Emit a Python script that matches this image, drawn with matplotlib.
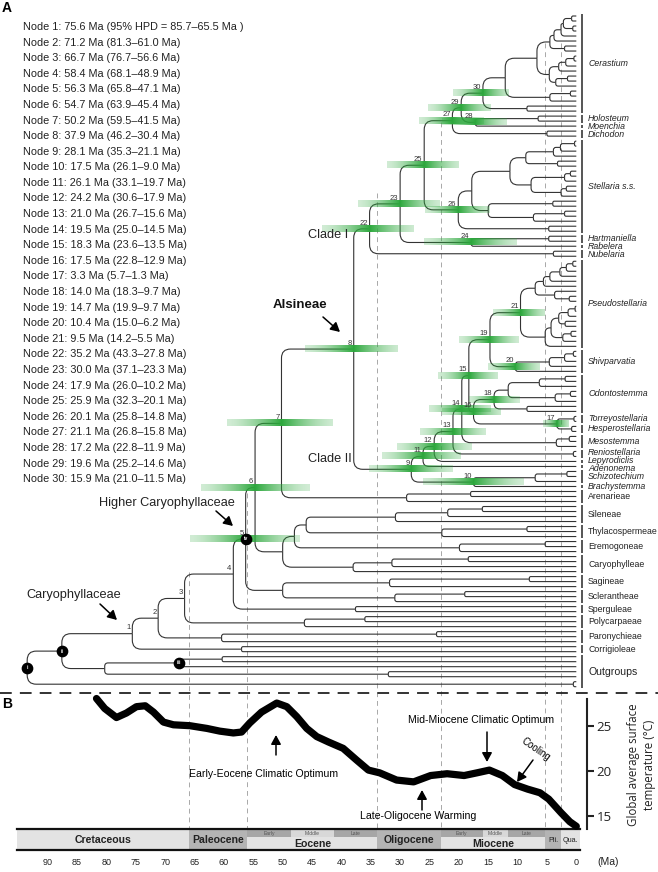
import numpy as np
import matplotlib
matplotlib.use("Agg")
import matplotlib.pyplot as plt
from matplotlib.path import Path
from matplotlib.patches import PathPatch, Rectangle

plt.rcParams['font.family'] = ['Liberation Sans', 'DejaVu Sans']

W, H = 658, 872

# ---- node ages (Ma) with 95% HPD, nodes 1-30
NODE_AGE = [75.6, 71.2, 66.7, 58.4, 56.3, 54.7, 50.2, 37.9, 28.1, 17.5,
            26.1, 24.2, 21.0, 19.5, 18.3, 17.5, 3.3, 14.0, 14.7, 10.4,
            9.5, 35.2, 30.0, 17.9, 25.9, 20.1, 21.1, 17.2, 19.6, 15.9]
HPD_OLD = [85.7, 81.3, 76.7, 68.1, 65.8, 63.9, 59.5, 46.2, 35.3, 26.1,
           33.1, 30.6, 26.7, 25.0, 23.6, 22.8, 5.7, 18.3, 19.9, 15.0,
           14.2, 43.3, 37.1, 26.0, 32.3, 25.8, 26.8, 22.8, 25.2, 21.0]
HPD_YOUNG = [65.5, 61.0, 56.6, 48.9, 47.1, 45.4, 41.5, 30.4, 21.1, 9.0,
             19.7, 17.9, 15.6, 14.5, 13.5, 12.9, 1.3, 9.7, 9.7, 6.2,
             5.5, 27.8, 23.3, 10.2, 20.1, 14.8, 15.8, 11.9, 14.6, 11.5]
ROMAN_AGE = {"i": 93.5, "ii": 87.6, "iii": 67.7}
CIRCLED = {"i": "i", "ii": "ii", "iii": "iii", "5": "iv"}

# ---- tree topology: (age or node id, child, child); T = tip
T = None
CERASTIUM = ("30",
             (12.1,
              (6.7,
               (4.5, (3.8, (2.6, (2.2, (0.8, T, T), (0.6, T, T)), T), T), (2.0, T, T)),
               (4.6, (3.0, (1.8, (0.4, T, T), T), T), (3.5, (1.5, T, T), T))),
              (4.5, (1.0, T, T), T)),
             (8.4, T, T))
STELLARIA = ("26",
             (17.8,
              (11.3,
               (8.6, (3.9, (2.7, (0.3, T, T), T), T), (3.2, T, T)),
               (7.7, (2.0, (1.0, T, T), T), (2.6, (1.7, T, T), T))),
              (15.0, (4.0, T, T), (7.3, (2.0, T, T), T))),
             (4.7, T, T))
CLADE_1 = ("22",
           ("23",
            ("25",
             ("27", ("29", CERASTIUM, ("28", (6.5, T, T), T)), (5.0, T, T)),
             STELLARIA),
            ("24", (4.7, T, T), T)),
           (3.9, T, T))
PSEUDOSTELLARIA = ("21",
                   (7.0, (5.6, (4.5, (2.8, (1.7, (0.6, T, T), T), T), T), T),
                    (3.7, T, (1.2, T, T))),
                   (5.3, (4.3, (3.0, (1.4, (0.2, T, T), T), (1.9, T, T)),
                          (2.3, (0.9, T, T), T)), T))
CLADE_2 = ("9",
           ("11",
            ("12",
             ("13",
              ("14",
               ("15",
                ("19", PSEUDOSTELLARIA, ("20", (4.6, (2.0, (0.5, T, T), T), T), T)),
                ("16",
                 ("18", (11.6, (6.3, (1.9, T, T), T), (3.6, (1.0, T, T), T)), (8.4, T, T)),
                 ("17", (0.4, T, T), (0.8, T, T)))),
               (3.4, (1.2, T, T), T)),
              (0.5, T, T)),
             T),
            T),
           ("10", (7.0, (1.6, T, T), T), T))
TREE = ("i",
        ("ii",
         ("1",
          ("2",
           ("3",
            ("4",
             ("5",
              ("6",
               ("7", ("8", CLADE_1, CLADE_2), (28.9, (18.0, T, T), T)),
               (50.0,
                (48.0, (46.0, (30.8, (21.9, (16.0, T, T), T), T), (22.9, (8.4, T, T), T)),
                 (19.9, (5.3, T, T), T)),
                (38.0, (31.4, (18.4, T, T), T), T))),
              (50.0, (31.8, (8.0, T, T), T), (30.9, (19.0, T, T), T))),
             (37.6, T, T)),
            (46.3, (36.0, T, T), T)),
           (60.4, (23.8, T, T), T)),
          (57.0, T, T)),
         (80.3, ("iii", (60.3, T, T), T), (32.0, T, T))),
        (0.5, T, T))

CLADE_NAMES = ["Cerastium", "Holosteum", "Moenchia", "Dichodon", "Stellaria s.s.",
               "Hartmaniella", "Rabelera", "Nubelaria", "Pseudostellaria", "Shivparvatia",
               "Odontostemma", "Torreyostellaria", "Hesperostellaria", "Mesostemma",
               "Reniostellaria", "Lepyrodiclis", "Adenonema", "Schizotechium", "Brachystemma",
               "Arenarieae", "Sileneae", "Thylacospermeae", "Eremogoneae", "Caryophylleae",
               "Sagineae", "Sclerantheae", "Sperguleae", "Polycarpaeae", "Paronychieae",
               "Corrigioleae", "Outgroups"]
CLADE_TIPS = [20, 2, 1, 2, 19, 2, 1, 2, 18, 5, 8, 2, 2, 3, 2, 1, 1, 3, 1,
              3, 4, 3, 3, 4, 3, 3, 2, 3, 3, 2, 7]
N_ITALIC = 19

# ---- temperature curve
TEMP_MA = [81.7, 80.3, 78.3, 76.6, 74.9, 73.4, 72.0, 70.3, 68.6, 65.8, 62.9, 60.7,
           58.4, 57.0, 55.6, 53.6, 51.0, 49.3, 47.6, 45.9, 44.2, 42.2, 39.7, 37.4,
           35.4, 33.5, 30.6, 27.7, 24.8, 22.0, 19.1, 16.9, 14.8, 12.6, 10.5, 8.3,
           6.2, 4.7, 2.6, 1.1, 0.0]
TEMP_C = [28.0, 26.9, 25.9, 26.4, 27.1, 27.2, 26.5, 25.4, 25.1, 25.0, 24.7, 24.4,
          24.2, 24.3, 25.3, 26.5, 27.5, 27.1, 26.0, 24.7, 23.8, 23.2, 22.5, 21.2,
          20.1, 19.8, 19.0, 18.8, 19.5, 19.7, 19.5, 19.8, 20.1, 19.5, 18.5, 18.0,
          17.6, 16.9, 15.4, 14.4, 13.9]
TEMP_TICKS = [15, 20, 25]

# ---- geological timescale
PERIOD_NAMES = ["Cretaceous", "Paleocene", "Eocene", "Oligocene", "Miocene", "Pli.", "Qua."]
PERIOD_START = [95.2, 66.0, 56.0, 33.9, 23.03, 5.33, 2.58]
PERIOD_END = [66.0, 56.0, 33.9, 23.03, 5.33, 2.58, -0.6]
SUB_NAMES = ["Early", "Middle", "Late", "Early", "Middle", "Late"]
SUB_START = [56.0, 48.6, 41.2, 23.03, 15.97, 11.63]
SUB_END = [48.6, 41.2, 33.9, 15.97, 11.63, 5.33]
BOUNDARY_MA = [66.0, 56.0, 33.9, 23.03, 5.33, 2.58]
BOUNDARY_TOP = [572, 493, 193, 122, 43, 43]   # where the guide lines start (px)
AXIS_TICKS = list(range(90, -1, -5))

# ---- layout constants
X_LEFT, X_RIGHT = 98.13, -13.91
PX_MA = W / (X_LEFT - X_RIGHT)
TIP0_PX, TIPN_PX = 16.0, 686.7
N_TIPS = sum(CLADE_TIPS)
PX_TIP = (TIPN_PX - TIP0_PX) / (N_TIPS - 1)
LINE_C = '#333333'


def node_age(label):
    if isinstance(label, str):
        return ROMAN_AGE[label] if label in ROMAN_AGE else NODE_AGE[int(label) - 1]
    return label


def layout(node, counter, nodes):
    if node is None:
        y = float(counter[0])
        counter[0] += 1
        return 0.0, y
    kids = [layout(c, counter, nodes) for c in node[1:]]
    age = node_age(node[0])
    y = (kids[0][1] + kids[-1][1]) / 2
    nodes.append((node[0], age, y, kids))
    return age, y


def branch(ax, x0, y0, x1, y1):
    dy = y1 - y0
    r = min(9.0, 0.6 * abs(dy) * PX_TIP, 0.8 * (x0 - x1) * PX_MA)
    rx, ry = r / PX_MA, r / PX_TIP
    s = np.sign(dy)
    verts = [(x0, y0), (x0, y1 - s * ry), (x0, y1), (x0 - rx, y1), (x1, y1)]
    codes = [Path.MOVETO, Path.LINETO, Path.CURVE3, Path.CURVE3, Path.LINETO]
    ax.add_patch(PathPatch(Path(verts, codes), fill=False, lw=0.8, ec=LINE_C,
                           capstyle='butt', zorder=2))


fig = plt.figure(figsize=(W / 100, H / 100), dpi=100)

# axes in (Ma, px): guide lines and timescale
ax_ma = fig.add_axes([0, 0, 1, 1])
ax_ma.set_xlim(X_LEFT, X_RIGHT)
ax_ma.set_ylim(H, 0)
ax_ma.axis('off')

for age, top in zip(BOUNDARY_MA, BOUNDARY_TOP):
    ax_ma.plot([age, age], [top, 829], color='#a8a8a8', lw=0.7, dashes=(5, 4), zorder=0)

BAR_TOP, BAR_BOT, SUB_BOT = 829, 850, 836.5
light, dark = '#e3e3e3', '#b4b4b4'
for i, (nm, a0, a1) in enumerate(zip(PERIOD_NAMES, PERIOD_START, PERIOD_END)):
    col = dark if i % 2 else light
    ax_ma.add_patch(Rectangle((a0, BAR_TOP), a1 - a0, BAR_BOT - BAR_TOP, fc=col, ec='none'))
    small = nm in ("Pli.", "Qua.")
    has_sub = nm in ("Eocene", "Miocene")
    ty = 843.5 if has_sub else 840
    ax_ma.text((a0 + a1) / 2, ty, nm, ha='center', va='center',
               fontsize=5.2 if small else 7.6, fontweight='normal' if small else 'bold',
               color='#222222')
for i, (nm, a0, a1) in enumerate(zip(SUB_NAMES, SUB_START, SUB_END)):
    col = '#d8d8d8' if nm == "Middle" else '#a6a6a6'
    ax_ma.add_patch(Rectangle((a0, BAR_TOP), a1 - a0, SUB_BOT - BAR_TOP, fc=col, ec='none'))
    ax_ma.text((a0 + a1) / 2, (BAR_TOP + SUB_BOT) / 2 + 0.5, nm, ha='center', va='center',
               fontsize=3.6, color='#555555')
ax_ma.plot([PERIOD_START[0], PERIOD_END[-1]], [BAR_TOP, BAR_TOP], color='#111111', lw=1.6)
ax_ma.plot([PERIOD_START[0], PERIOD_END[-1]], [BAR_BOT, BAR_BOT], color='#111111', lw=1.6)
for m in AXIS_TICKS:
    ax_ma.text(m, 862, str(m), ha='center', va='center', fontsize=6.5, color='#222222')

# ---- phylogeny
ax_tree = fig.add_axes([0, 0, 1, 1])
ax_tree.axis('off')
nodes = []
layout(TREE, [0], nodes)
node_y = {}
for label, age, y, kids in nodes:
    for kage, ky in kids:
        branch(ax_tree, age, y, kage, ky)
    if isinstance(label, str):
        node_y[label] = (age, y)

u = np.linspace(0, 1, 200)
green = (0.18, 0.66, 0.24)
for k in range(5, 31):
    age, y = node_y[str(k)]
    old, young = HPD_OLD[k - 1], HPD_YOUNG[k - 1]
    un = (old - age) / (old - young)
    d = np.abs(u - un) / max(un, 1 - un)
    img = np.zeros((1, len(u), 4))
    img[..., :3] = green
    img[..., 3] = 0.22 + 0.78 * (1 - d) ** 1.5
    ax_tree.imshow(img, extent=(old, young, y + 0.6, y - 0.6), aspect='auto',
                   interpolation='bilinear', zorder=3)

for k in range(1, 31):
    age, y = node_y[str(k)]
    ax_tree.text(age + 0.3, y - 0.45, str(k), ha='right', va='bottom', fontsize=5.5,
                 color='#333333', zorder=4)

for key, roman in CIRCLED.items():
    age, y = node_y[key]
    ax_tree.scatter([age], [y], s=55, c='black', zorder=5)
    ax_tree.text(age, y, roman, ha='center', va='center', fontsize=3.6, color='white',
                 fontweight='bold', zorder=6)

# clade labels: bars at the tips, names pushed apart where they crowd
starts = np.cumsum([0] + CLADE_TIPS[:-1])
lab_y = [s + (n - 1) / 2 for s, n in zip(starts, CLADE_TIPS)]
for _ in range(60):
    for j in range(1, len(lab_y)):
        gap = lab_y[j] - lab_y[j - 1]
        if gap < 1.6:
            lab_y[j - 1] -= (1.6 - gap) / 2
            lab_y[j] += (1.6 - gap) / 2
for i, (nm, s, n) in enumerate(zip(CLADE_NAMES, starts, CLADE_TIPS)):
    y0, y1 = s - 0.3, s + n - 1 + 0.3
    ax_tree.plot([-0.97, -0.97], [y0, y1], color='#555555', lw=1.4, solid_capstyle='butt')
    ax_tree.text(-2.0, lab_y[i], nm, ha='left', va='center',
                 fontsize=7.6 if nm == "Outgroups" else 6.3,
                 style='italic' if i < N_ITALIC else 'normal', color='#222222')

ax_tree.set_xlim(X_LEFT, X_RIGHT)
ax_tree.set_ylim((H - TIP0_PX) / PX_TIP, -TIP0_PX / PX_TIP)

# ---- temperature panel
def t_at(px):
    return 25 - (px - 725.7) / 9.06

P_TOP, P_BOT = 693, 829
ax_temp = fig.add_axes([0, (H - P_BOT) / H, 1, (P_BOT - P_TOP) / H])
ax_temp.patch.set_visible(False)
ax_temp.plot(TEMP_MA, TEMP_C, color='black', lw=5.2, solid_capstyle='round',
             solid_joinstyle='round', clip_on=False)
ax_temp.set_xlim(X_LEFT, X_RIGHT)
ax_temp.set_ylim(t_at(P_BOT), t_at(P_TOP))
for s in ['top', 'left', 'bottom']:
    ax_temp.spines[s].set_visible(False)
ax_temp.spines['right'].set_position(('data', (576.3 - 586.7) / PX_MA))
ax_temp.spines['right'].set_bounds(t_at(P_BOT), t_at(699))
ax_temp.spines['right'].set_linewidth(1.5)
ax_temp.spines['right'].set_color('#222222')
ax_temp.set_xticks([])
ax_temp.yaxis.tick_right()
ax_temp.set_yticks(TEMP_TICKS)
ax_temp.tick_params(axis='y', direction='out', length=5, width=1.5, pad=2,
                    labelsize=9.5, colors='#222222')
for lab in ax_temp.get_yticklabels():
    lab.set_family(['Open Sans', 'DejaVu Sans'])

# ---- text & annotations in pixel space
ax = fig.add_axes([0, 0, 1, 1])
ax.set_xlim(0, W)
ax.set_ylim(H, 0)
ax.axis('off')

ax.plot([0, W], [693, 693], color='#222222', lw=1.3, dashes=(6.5, 4.5))
ax.text(2, 8, 'A', fontsize=10, fontweight='bold', va='center')
ax.text(2, 704, 'B', fontsize=10, fontweight='bold', va='center')

for k in range(30):
    if k == 0:
        line = "Node 1: %.1f Ma (95%% HPD = %.1f\u2013%.1f Ma )" % (NODE_AGE[0], HPD_OLD[0], HPD_YOUNG[0])
    else:
        line = "Node %d: %.1f Ma (%.1f\u2013%.1f Ma)" % (k + 1, NODE_AGE[k], HPD_OLD[k], HPD_YOUNG[k])
    ax.text(23, 27 + k * 15.59, line, fontsize=7.8, va='center', color='#222222')

arrow = dict(arrowstyle='-|>,head_length=0.55,head_width=0.3', lw=1.1, color='black',
             shrinkA=0, shrinkB=0, mutation_scale=10)
ax.text(26, 595, 'Caryophyllaceae', fontsize=9.2, va='center', color='#222222')
ax.annotate('', xy=(117, 620), xytext=(100, 604), arrowprops=arrow)
ax.text(99, 503, 'Higher Caryophyllaceae', fontsize=9.2, va='center', color='#222222')
ax.annotate('', xy=(233, 526), xytext=(216, 511), arrowprops=arrow)
ax.text(273, 305, 'Alsineae', fontsize=9.5, fontweight='bold', va='center', color='#111111')
ax.annotate('', xy=(340, 332), xytext=(323, 317), arrowprops=arrow)
ax.text(308, 235, 'Clade I', fontsize=9.2, va='center', color='#222222')
ax.text(308, 459, 'Clade II', fontsize=9.2, va='center', color='#222222')

ax.text(264, 774, 'Early-Eocene Climatic Optimum', fontsize=7.6, ha='center', va='center')
ax.annotate('', xy=(276, 735), xytext=(276, 755), arrowprops=arrow)
ax.text(481, 720, 'Mid-Miocene Climatic Optimum', fontsize=7.6, ha='center', va='center')
ax.annotate('', xy=(487, 762), xytext=(487, 732), arrowprops=arrow)
ax.text(536, 749, 'Cooling', fontsize=7, ha='center', va='center', rotation=-35)
ax.annotate('', xy=(517, 782), xytext=(533, 760), arrowprops=arrow)
ax.text(418, 816, 'Late-Oligocene Warming', fontsize=7.6, ha='center', va='center')
ax.annotate('', xy=(422, 790), xytext=(422, 810), arrowprops=arrow)

ax.text(633, 765, 'Global average surface', rotation=90, ha='center', va='center',
        fontsize=8.3, family=['Open Sans', 'DejaVu Sans'], color='#222222')
ax.text(650, 765, 'temperature (\u00b0C)', rotation=90, ha='center', va='center',
        fontsize=8.3, family=['Open Sans', 'DejaVu Sans'], color='#222222')
ax.text(597, 862, '(Ma)', fontsize=7.5, va='center', color='#222222')

fig.savefig('out.png', dpi=100)
